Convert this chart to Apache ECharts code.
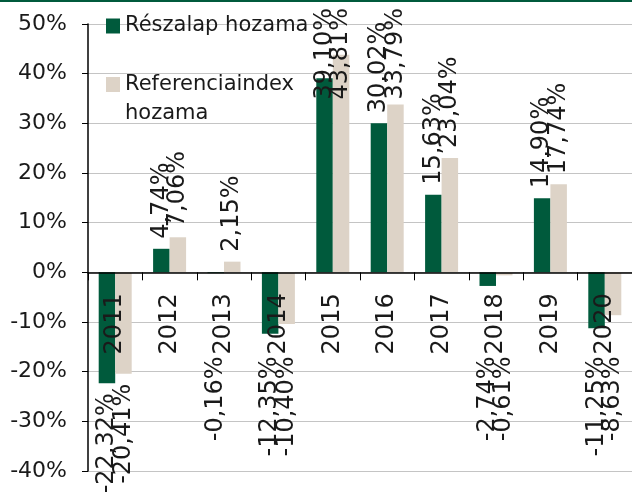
<!DOCTYPE html>
<html>
<head>
<meta charset="utf-8">
<script src="https://cdn.jsdelivr.net/npm/echarts@6/dist/echarts.min.js"></script>
<style>
  html, body { margin: 0; padding: 0; background: #fff; }
  #chart_returns { width: 632px; height: 492px; }
</style>
</head>
<body>
<div id="chart_returns"></div>
<script>
// évek és hozamok (%)
var years = ['2011', '2012', '2013', '2014', '2015', '2016', '2017', '2018', '2019', '2020'];
var fundReturn = [-22.32, 4.74, -0.16, -12.35, 39.10, 30.02, 15.63, -2.74, 14.90, -11.25];
var indexReturn = [-20.41, 7.06, 2.15, -10.40, 43.81, 33.79, 23.04, -0.61, 17.74, -8.63];
var seriesNames = ['Részalap hozama', 'Referenciaindex hozama'];
var yMin = -40;
var yMax = 50;
var yStep = 10;

var GREEN = '#005a3c';
var BEIGE = '#ddd3c7';
var TEXT = '#1a1a1a';
var FONT = 'DejaVu Sans';

var CHART_H = 492;
var GRID_TOP = 24;
var GRID_BOTTOM = 21;
// az x tengely a 0%-os szintre kerül (v6-ban a felirat nem követi az onZero-t)
var zeroOffset = -(CHART_H - GRID_TOP - GRID_BOTTOM) * (0 - yMin) / (yMax - yMin);

function fmtPct(v) {
  return v.toFixed(2).replace('.', ',') + '%';
}

// Excel-szerű elhelyezés: pozitívnál felfelé, negatívnál lefelé, tengelyfeliratok alá
function placeLabel(values) {
  return function (p) {
    var v = values[p.dataIndex];
    var r = p.rect;
    var len = Math.max(p.labelRect.width, p.labelRect.height);
    var cx = r.x + r.width / 2;
    if (v >= 0) {
      var y = r.y - 10;
      if (y - len < 8) y = 8 + len;
      return { x: cx, y: y, align: 'left', verticalAlign: 'middle', rotate: 90 };
    }
    var y2 = Math.max(r.y + r.height + 10, r.y + 84);
    return { x: cx, y: y2, align: 'right', verticalAlign: 'middle', rotate: 90 };
  };
}

function getSerie(name, values, color) {
  return {
    name: name,
    type: 'bar',
    data: values,
    barWidth: 16.5,
    barGap: '0%',
    itemStyle: { color: color },
    label: {
      show: true,
      position: 'top',
      rotate: 90,
      color: TEXT,
      fontFamily: FONT,
      fontSize: 24,
      formatter: function (p) { return fmtPct(p.value); }
    },
    labelLayout: placeLabel(values)
  };
}

var option = {
  animation: false,
  backgroundColor: '#fff',
  textStyle: { fontFamily: FONT, color: TEXT },
  graphic: [
    {
      type: 'rect',
      left: 0,
      top: 0,
      shape: { width: 632, height: 2 },
      style: { fill: GREEN },
      z: 100
    }
  ],
  legend: [
    {
      data: [seriesNames[0]],
      left: 106,
      top: 14,
      padding: 0,
      itemWidth: 14,
      itemHeight: 15,
      icon: 'rect',
      selectedMode: false,
      textStyle: { fontFamily: FONT, fontSize: 21, color: TEXT, lineHeight: 24 }
    },
    {
      data: [seriesNames[1]],
      left: 106,
      top: 41,
      padding: 0,
      itemWidth: 14,
      itemHeight: 15,
      icon: 'rect',
      selectedMode: false,
      // üres első sor, hogy az ikon az első szöveg-sorral egy vonalba kerüljön
      formatter: function (name) { return ' \n' + name.replace(' ', '\n'); },
      textStyle: { fontFamily: FONT, fontSize: 21, color: TEXT, lineHeight: 29 }
    }
  ],
  grid: {
    left: 88,
    right: 0,
    top: GRID_TOP,
    bottom: GRID_BOTTOM,
    containLabel: false,
    outerBoundsMode: 'none'
  },
  xAxis: {
    type: 'category',
    data: years,
    offset: zeroOffset,
    z: 5,
    axisLine: { onZero: false, lineStyle: { color: '#000', width: 1.5 } },
    axisTick: { show: true, length: 8, lineStyle: { color: '#000' } },
    axisLabel: {
      rotate: 90,
      margin: 21,
      fontFamily: FONT,
      fontSize: 24,
      color: TEXT
    },
    splitLine: { show: false }
  },
  yAxis: {
    type: 'value',
    min: yMin,
    max: yMax,
    interval: yStep,
    axisLine: { show: true, lineStyle: { color: '#000', width: 1.5 } },
    axisTick: { show: true, length: 6, lineStyle: { color: '#000' } },
    axisLabel: {
      margin: 21,
      fontFamily: FONT,
      fontSize: 22,
      color: TEXT,
      formatter: function (v) { return v + '%'; }
    },
    splitLine: { show: true, lineStyle: { color: '#c4c4c4', width: 1 } }
  },
  series: [
    getSerie(seriesNames[0], fundReturn, GREEN),
    getSerie(seriesNames[1], indexReturn, BEIGE)
  ]
};

var myChart = echarts.init(document.getElementById('chart_returns'));
myChart.setOption(option);
window.addEventListener('resize', function () {
  myChart.resize();
});
</script>
</body>
</html>
